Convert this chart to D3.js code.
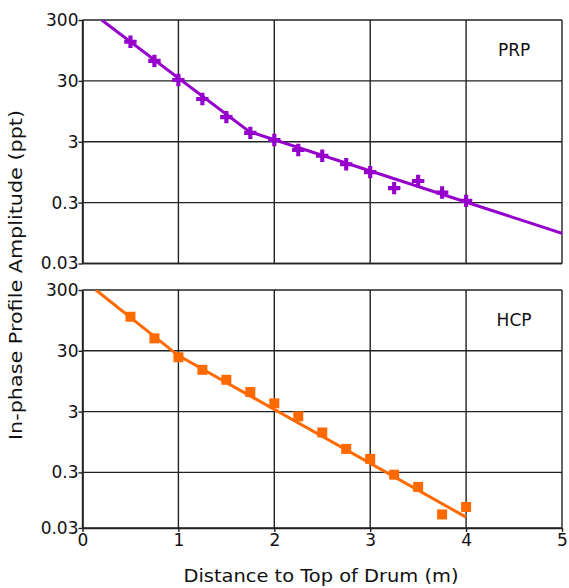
<!DOCTYPE html>
<html>
<head>
<meta charset="utf-8">
<script src="https://cdn.jsdelivr.net/npm/d3@7"></script>
<style>
  body { margin: 0; background: #fff; }
  svg text { font-family: "DejaVu Sans", "Liberation Sans", sans-serif; fill: #111; }
</style>
</head>
<body>
<div id="chart"></div>
<script>
// distances (m) at which readings were taken
var distances = [0.5, 0.75, 1.0, 1.25, 1.5, 1.75, 2.0, 2.25, 2.5, 2.75, 3.0, 3.25, 3.5, 3.75, 4.0];
// PRP in-phase amplitude (ppt)
var prpValues = [132, 64, 31, 15.1, 7.6, 4.2, 3.2, 2.2, 1.77, 1.28, 0.95, 0.52, 0.68, 0.44, 0.32];
// HCP in-phase amplitude (ppt)
var hcpValues = [109, 48, 23.5, 14.6, 10, 6.3, 4.1, 2.5, 1.36, 0.73, 0.50, 0.275, 0.173, 0.061, 0.081];
// fitted curves
var prpFitX = [0.2, 1.74, 5.0];
var prpFitY = [300, 4.4, 0.094];
var hcpFitX = [0.14, 1.0, 4.0];
var hcpFitY = [300, 25, 0.055];
var xTicks = [0, 1, 2, 3, 4, 5];
var yTickLabels = ["0.03", "0.3", "3", "30", "300"];

var svgWidth = 569, svgHeight = 588;
var left = 82.5, right = 562;

var svg = d3.select("#chart").append("svg")
  .attr("width", svgWidth)
  .attr("height", svgHeight);

var x = d3.scaleLinear().domain([0, 5]).range([left, right]);

var panels = [
  { name: "PRP", top: 20, bottom: 263.5, ymin: 0.03, color: "#9600cc", values: prpValues,
    fx: prpFitX, fy: prpFitY, marker: "plus" },
  { name: "HCP", top: 290, bottom: 528, ymin: 0.0365, color: "#ff6a00", values: hcpValues,
    fx: hcpFitX, fy: hcpFitY, marker: "square" }
];

panels.forEach(function(p, pi) {
  var y = d3.scaleLog().domain([p.ymin, 300]).range([p.bottom, p.top]);
  var tickVals = [p.ymin, 0.3, 3, 30, 300];
  var g = svg.append("g");

  var clipId = "clip" + pi;
  g.append("clipPath").attr("id", clipId).append("rect")
    .attr("x", left).attr("y", p.top)
    .attr("width", right - left).attr("height", p.bottom - p.top);

  // grid
  g.selectAll(".hgrid").data(tickVals).enter().append("line")
    .attr("x1", left).attr("x2", right)
    .attr("y1", d => y(d)).attr("y2", d => y(d))
    .attr("stroke", "#222").attr("stroke-width", 1.4);
  g.selectAll(".vgrid").data(xTicks).enter().append("line")
    .attr("x1", d => x(d)).attr("x2", d => x(d))
    .attr("y1", p.top).attr("y2", p.bottom)
    .attr("stroke", "#222").attr("stroke-width", 1.4);

  // left axis
  var leftAxis = d3.axisLeft(y)
    .tickValues(tickVals)
    .tickFormat((d, i) => yTickLabels[i])
    .tickSize(4).tickSizeOuter(0);
  var ax = g.append("g").attr("transform", `translate(${left},0)`).call(leftAxis);
  ax.select(".domain").attr("stroke", "#222").attr("stroke-width", 1.6);
  ax.selectAll(".tick line").attr("stroke", "#222").attr("stroke-width", 1.4);
  ax.selectAll(".tick text")
    .attr("font-size", 17).attr("x", -4)
    .attr("font-family", "DejaVu Sans, sans-serif").attr("fill", "#111");

  if (pi === 1) {
    var bottomAxis = d3.axisBottom(x).tickValues(xTicks).tickFormat(d3.format("d"))
      .tickSize(4).tickSizeOuter(0);
    var bx = g.append("g").attr("transform", `translate(0,${p.bottom})`).call(bottomAxis);
    bx.select(".domain").attr("stroke", "#222").attr("stroke-width", 1.6);
    bx.selectAll(".tick line").attr("stroke", "#222").attr("stroke-width", 1.4);
    bx.selectAll(".tick text").attr("font-size", 17).attr("y", 6)
      .attr("font-family", "DejaVu Sans, sans-serif").attr("fill", "#111");
  } else {
    g.append("line").attr("x1", left).attr("x2", right)
      .attr("y1", p.bottom).attr("y2", p.bottom)
      .attr("stroke", "#222").attr("stroke-width", 1.6);
  }

  // fit line
  var fit = p.fx.map((d, i) => [d, p.fy[i]]);
  g.append("path")
    .datum(fit)
    .attr("clip-path", `url(#${clipId})`)
    .attr("fill", "none")
    .attr("stroke", p.color)
    .attr("stroke-width", 3)
    .attr("d", d3.line().x(d => x(d[0])).y(d => y(d[1])));

  // markers
  var pts = distances.map((d, i) => ({ x: d, v: p.values[i] }));
  if (p.marker === "plus") {
    g.selectAll(".pt").data(pts).enter().append("path")
      .attr("transform", d => `translate(${x(d.x)},${y(d.v)})`)
      .attr("d", d3.symbol().type(d3.symbolCross).size(85))
      .attr("fill", p.color);
  } else {
    g.selectAll(".pt").data(pts).enter().append("rect")
      .attr("x", d => x(d.x) - 5).attr("y", d => y(d.v) - 5)
      .attr("width", 10).attr("height", 10)
      .attr("fill", p.color);
  }

  // panel label
  g.append("text")
    .attr("x", x(4.5)).attr("y", (y(300) + y(30)) / 2 + 6)
    .attr("text-anchor", "middle")
    .attr("font-size", 17)
    .text(p.name);
});

// axis titles
svg.append("text")
  .attr("transform", "rotate(-90)")
  .attr("x", -275).attr("y", 22)
  .attr("text-anchor", "middle")
  .attr("font-size", 17)
  .attr("textLength", 330)
  .attr("lengthAdjust", "spacingAndGlyphs")
  .text("In-phase Profile Amplitude (ppt)");

svg.append("text")
  .attr("x", 321).attr("y", 582)
  .attr("text-anchor", "middle")
  .attr("font-size", 17)
  .attr("textLength", 275)
  .attr("lengthAdjust", "spacingAndGlyphs")
  .text("Distance to Top of Drum (m)");
</script>
</body>
</html>
